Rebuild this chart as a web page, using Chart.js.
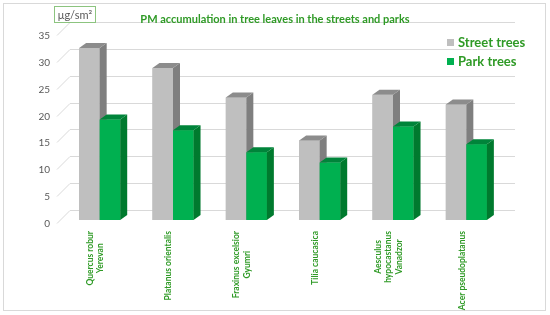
<!DOCTYPE html>
<html lang="en">
<head>
    <meta charset="UTF-8">
    <title>PM accumulation in tree leaves</title>
    <script src="https://cdn.jsdelivr.net/npm/chart.js"></script>
    <style>
        html, body {
            margin: 0;
            padding: 0;
            background: #ffffff;
        }
        #wrap {
            width: 550px;
            height: 315px;
        }
    </style>
</head>
<body>
    <div id="wrap"><canvas id="pmChart" width="550" height="315"></canvas></div>

    <script>
        const categories = [
            ['Quercus robur', 'Yerevan'],
            ['Platanus orientalis'],
            ['Fraxinus excelsior', 'Gyumri'],
            ['Tilia caucasica'],
            ['Aesculus', 'hypocastanus', 'Vanadzor'],
            ['Acer pseudoplatanus']
        ];
        const streetTrees = [32.0, 28.3, 22.8, 14.8, 23.3, 21.5];
        const parkTrees = [18.7, 16.7, 12.6, 10.7, 17.4, 14.1];
        const yTicks = [0, 5, 10, 15, 20, 25, 30, 35];

        const titleText = 'PM accumulation in tree leaves in the streets and parks';
        const unitText = 'μg/sm²';
        const green = '#2f9a26';
        const fontFamily = 'Lato, "Open Sans", sans-serif';

        // front / top / side colours for the fake 3D columns
        const faces = [
            { front: '#bfbfbf', top: '#8c8c8c', side: '#7f7f7f' },
            { front: '#00b050', top: '#00843a', side: '#007a2e' }
        ];
        const depthX = 7, depthY = 5;

        const threeD = {
            id: 'threeD',
            beforeDatasetsDraw(chart) {
                const { ctx, chartArea, scales } = chart;
                const y = scales.y;
                ctx.save();
                ctx.strokeStyle = '#d9d9d9';
                ctx.lineWidth = 1;
                ctx.fillStyle = '#595959';
                ctx.font = '10px ' + fontFamily;
                ctx.textAlign = 'right';
                ctx.textBaseline = 'middle';
                yTicks.forEach(v => {
                    const py = Math.round(y.getPixelForValue(v)) + 0.5;
                    ctx.beginPath();
                    ctx.moveTo(chartArea.left - 6, py + 3);
                    ctx.lineTo(chartArea.left + 7, py - 10);
                    ctx.lineTo(chartArea.right + 12, py - 10);
                    ctx.stroke();
                    ctx.fillText(String(v), chartArea.left - 13, py + 3);
                });
                ctx.restore();
            },
            afterDatasetsDraw(chart) {
                const ctx = chart.ctx;
                ctx.save();
                chart.data.datasets.forEach((ds, i) => {
                    const meta = chart.getDatasetMeta(i);
                    const c = faces[i];
                    meta.data.forEach(bar => {
                        const l = bar.x - bar.width / 2;
                        const r = bar.x + bar.width / 2;
                        const t = bar.y;
                        const b = bar.base;
                        ctx.fillStyle = c.front;
                        ctx.fillRect(l, t, r - l, b - t);
                        ctx.fillStyle = c.side;
                        ctx.beginPath();
                        ctx.moveTo(r, t);
                        ctx.lineTo(r + depthX, t - depthY);
                        ctx.lineTo(r + depthX, b - depthY);
                        ctx.lineTo(r, b);
                        ctx.closePath();
                        ctx.fill();
                        ctx.fillStyle = c.top;
                        ctx.beginPath();
                        ctx.moveTo(l, t);
                        ctx.lineTo(l + depthX, t - depthY);
                        ctx.lineTo(r + depthX, t - depthY);
                        ctx.lineTo(r, t);
                        ctx.closePath();
                        ctx.fill();
                    });
                });
                ctx.restore();
            },
            afterDraw(chart) {
                const { ctx, scales } = chart;
                const x = scales.x;
                ctx.save();

                // outer frame
                ctx.strokeStyle = '#d9d9d9';
                ctx.lineWidth = 1;
                ctx.strokeRect(3.5, 3.5, 542, 307);

                // title
                ctx.fillStyle = green;
                ctx.font = 'bold 11px ' + fontFamily;
                ctx.textAlign = 'center';
                ctx.textBaseline = 'middle';
                ctx.fillText(titleText, 275, 19);

                // unit box
                ctx.strokeStyle = '#8cc47f';
                ctx.strokeRect(54.5, 6.5, 41, 16);
                ctx.fillStyle = '#595959';
                ctx.font = '11px ' + fontFamily;
                ctx.fillText(unitText, 75, 15);

                // legend
                ctx.textAlign = 'left';
                ctx.font = 'bold 13px ' + fontFamily;
                chart.data.datasets.forEach((ds, i) => {
                    const ly = 43 + i * 19;
                    ctx.fillStyle = faces[i].front;
                    ctx.fillRect(447, ly - 4, 7, 7);
                    ctx.fillStyle = green;
                    ctx.fillText(ds.label, 458, ly);
                });

                // rotated category labels, lines centred
                ctx.font = 'bold 8.5px ' + fontFamily;
                ctx.fillStyle = green;
                ctx.textAlign = 'center';
                categories.forEach((lines, i) => {
                    const cx = x.getPixelForValue(i) - 4.5;
                    const maxW = Math.max(...lines.map(s => ctx.measureText(s).width));
                    ctx.save();
                    ctx.translate(cx, 231);
                    ctx.rotate(-Math.PI / 2);
                    lines.forEach((s, k) => {
                        ctx.fillText(s, -maxW / 2, (k - (lines.length - 1) / 2) * 10.5);
                    });
                    ctx.restore();
                });
                ctx.restore();
            }
        };

        const chart = new Chart(document.getElementById('pmChart'), {
            type: 'bar',
            data: {
                labels: categories,
                datasets: [
                    {
                        label: 'Street trees',
                        data: streetTrees,
                        backgroundColor: faces[0].front,
                        barPercentage: 1,
                        categoryPercentage: 0.56
                    },
                    {
                        label: 'Park trees',
                        data: parkTrees,
                        backgroundColor: faces[1].front,
                        barPercentage: 1,
                        categoryPercentage: 0.56
                    }
                ]
            },
            options: {
                responsive: false,
                animation: false,
                layout: {
                    padding: { top: 32, left: 39, right: 47, bottom: 87 }
                },
                plugins: {
                    legend: { display: false },
                    title: { display: false },
                    tooltip: { enabled: false }
                },
                scales: {
                    x: {
                        grid: { display: false },
                        border: { display: false },
                        ticks: { display: false }
                    },
                    y: {
                        min: 0,
                        max: 35,
                        grid: { display: false },
                        border: { display: false },
                        afterFit(scale) { scale.width = 24; },
                        ticks: { stepSize: 5, display: false }
                    }
                }
            },
            plugins: [threeD]
        });
    </script>
</body>
</html>
